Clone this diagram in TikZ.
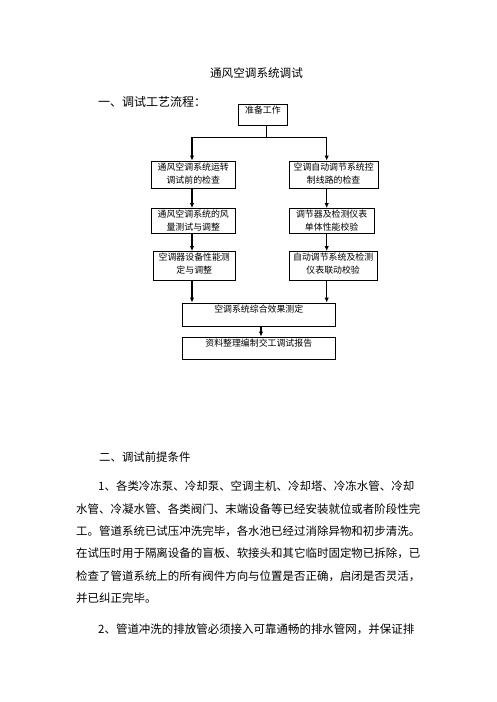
\documentclass[tikz,border=0pt]{standalone}
\usepackage{fontspec}
\setmainfont{Noto Sans CJK SC}
\usetikzlibrary{arrows.meta}
\begin{document}
\begin{tikzpicture}[x=1pt,y=-1pt,
  box/.style={draw=black,line width=0.9pt,inner sep=0pt,rectangle},
  boxtext/.style={font=\fontsize{8.9}{12.8}\selectfont,align=center,inner sep=0pt,anchor=north,yshift=-2pt},
  arr/.style={line width=1.1pt,-{Latex[length=5pt,width=4.5pt]}},
  ln/.style={line width=1.1pt},
  para/.style={font=\fontsize{11.47}{14}\selectfont,inner sep=0pt,anchor=west}]
\path[use as bounding box,fill=white] (0,0) rectangle (496,702);
% headings
\node[font=\fontsize{11.6}{14}\selectfont,inner sep=0pt] (title) at (256.5,73) {通风空调系统调试};
\node[font=\fontsize{12}{14}\selectfont,inner sep=0pt,anchor=west] (h1) at (98,102) {一、调试工艺流程：};
% boxes
\node[box,minimum width=49.2pt,minimum height=20.7pt] (prep) at (262.9,114.65) {};
\node[box,minimum width=83.5pt,minimum height=27pt] (l1) at (193.25,174.5) {};
\node[box,minimum width=88.7pt,minimum height=27pt] (r1) at (333.65,174.5) {};
\node[box,minimum width=84.5pt,minimum height=24.5pt] (l2) at (193.25,220.75) {};
\node[box,minimum width=84.7pt,minimum height=24.5pt] (r2) at (331.65,220.75) {};
\node[box,minimum width=82.5pt,minimum height=29pt] (l3) at (194.25,266) {};
\node[box,minimum width=87.7pt,minimum height=29pt] (r3) at (333.15,266) {};
\node[box,minimum width=153.5pt,minimum height=23pt] (c1) at (258.75,314.5) {};
\node[box,minimum width=153.5pt,minimum height=22pt] (c2) at (258.75,348) {};
% box texts
\node[boxtext] (tprep) at (prep.north) {准备工作};
\node[boxtext] (tl1) at (l1.north) {通风空调系统运转\\调试前的检查};
\node[boxtext] (tr1) at (r1.north) {空调自动调节系统控\\制线路的检查};
\node[boxtext] (tl2) at (l2.north) {通风空调系统的风\\量测试与调整};
\node[boxtext] (tr2) at (r2.north) {调节器及检测仪表\\单体性能校验};
\node[boxtext] (tl3) at (l3.north) {空调器设备性能测\\定与调整};
\node[boxtext] (tr3) at (r3.north) {自动调节系统及检测\\仪表联动校验};
\node[boxtext] (tc1) at (c1.north) {空调系统综合效果测定};
\node[boxtext] (tc2) at (c2.north) {资料整理编制交工调试报告};
% connectors
\coordinate (jp) at (266,0);
\coordinate (jl) at (192,137.3);
\coordinate (jr) at (326.7,137.3);
\coordinate (jc) at (261,0);
\draw[line width=0.8pt] (prep.south -| jp) -- (jl -| jp);
\draw[ln] (jl) -- (jr);
\draw[arr] (jl) -- (jl |- l1.north);
\draw[arr] (jr) -- (jr |- r1.north);
\draw[arr] (l1.south -| jl) -- (l2.north -| jl);
\draw[arr] (r1.south -| jr) -- (r2.north -| jr);
\draw[arr] (l2.south -| jl) -- (l3.north -| jl);
\draw[arr] (r2.south -| jr) -- (r3.north -| jr);
\draw[arr] (l3.south -| jl) -- (c1.north -| jl);
\draw[arr] (r3.south -| jr) -- (c1.north -| jr);
\draw[arr] (c1.south -| jc) -- (c2.north -| jc);
% section two
\node[font=\fontsize{11.4}{14}\selectfont,inner sep=0pt,anchor=west] (h2) at (99,457) {二、调试前提条件};
\node[para] (p1) at (98,486) {1、各类冷冻泵、冷却泵、空调主机、冷却塔、冷冻水管、冷却};
\node[para] (p2) at (76,509) {水管、冷凝水管、各类阀门、末端设备等已经安装就位或者阶段性完};
\node[para] (p3) at (76,531) {工。管道系统已试压冲洗完毕，各水池已经过消除异物和初步清洗。};
\node[para] (p4) at (76,553) {在试压时用于隔离设备的盲板、软接头和其它临时固定物已拆除，已};
\node[para] (p5) at (76,576) {检查了管道系统上的所有阀件方向与位置是否正确，启闭是否灵活，};
\node[para] (p6) at (76,598) {并已纠正完毕。};
\node[para] (p7) at (98,629) {2、管道冲洗的排放管必须接入可靠通畅的排水管网，并保证排};
\end{tikzpicture}
\end{document}
